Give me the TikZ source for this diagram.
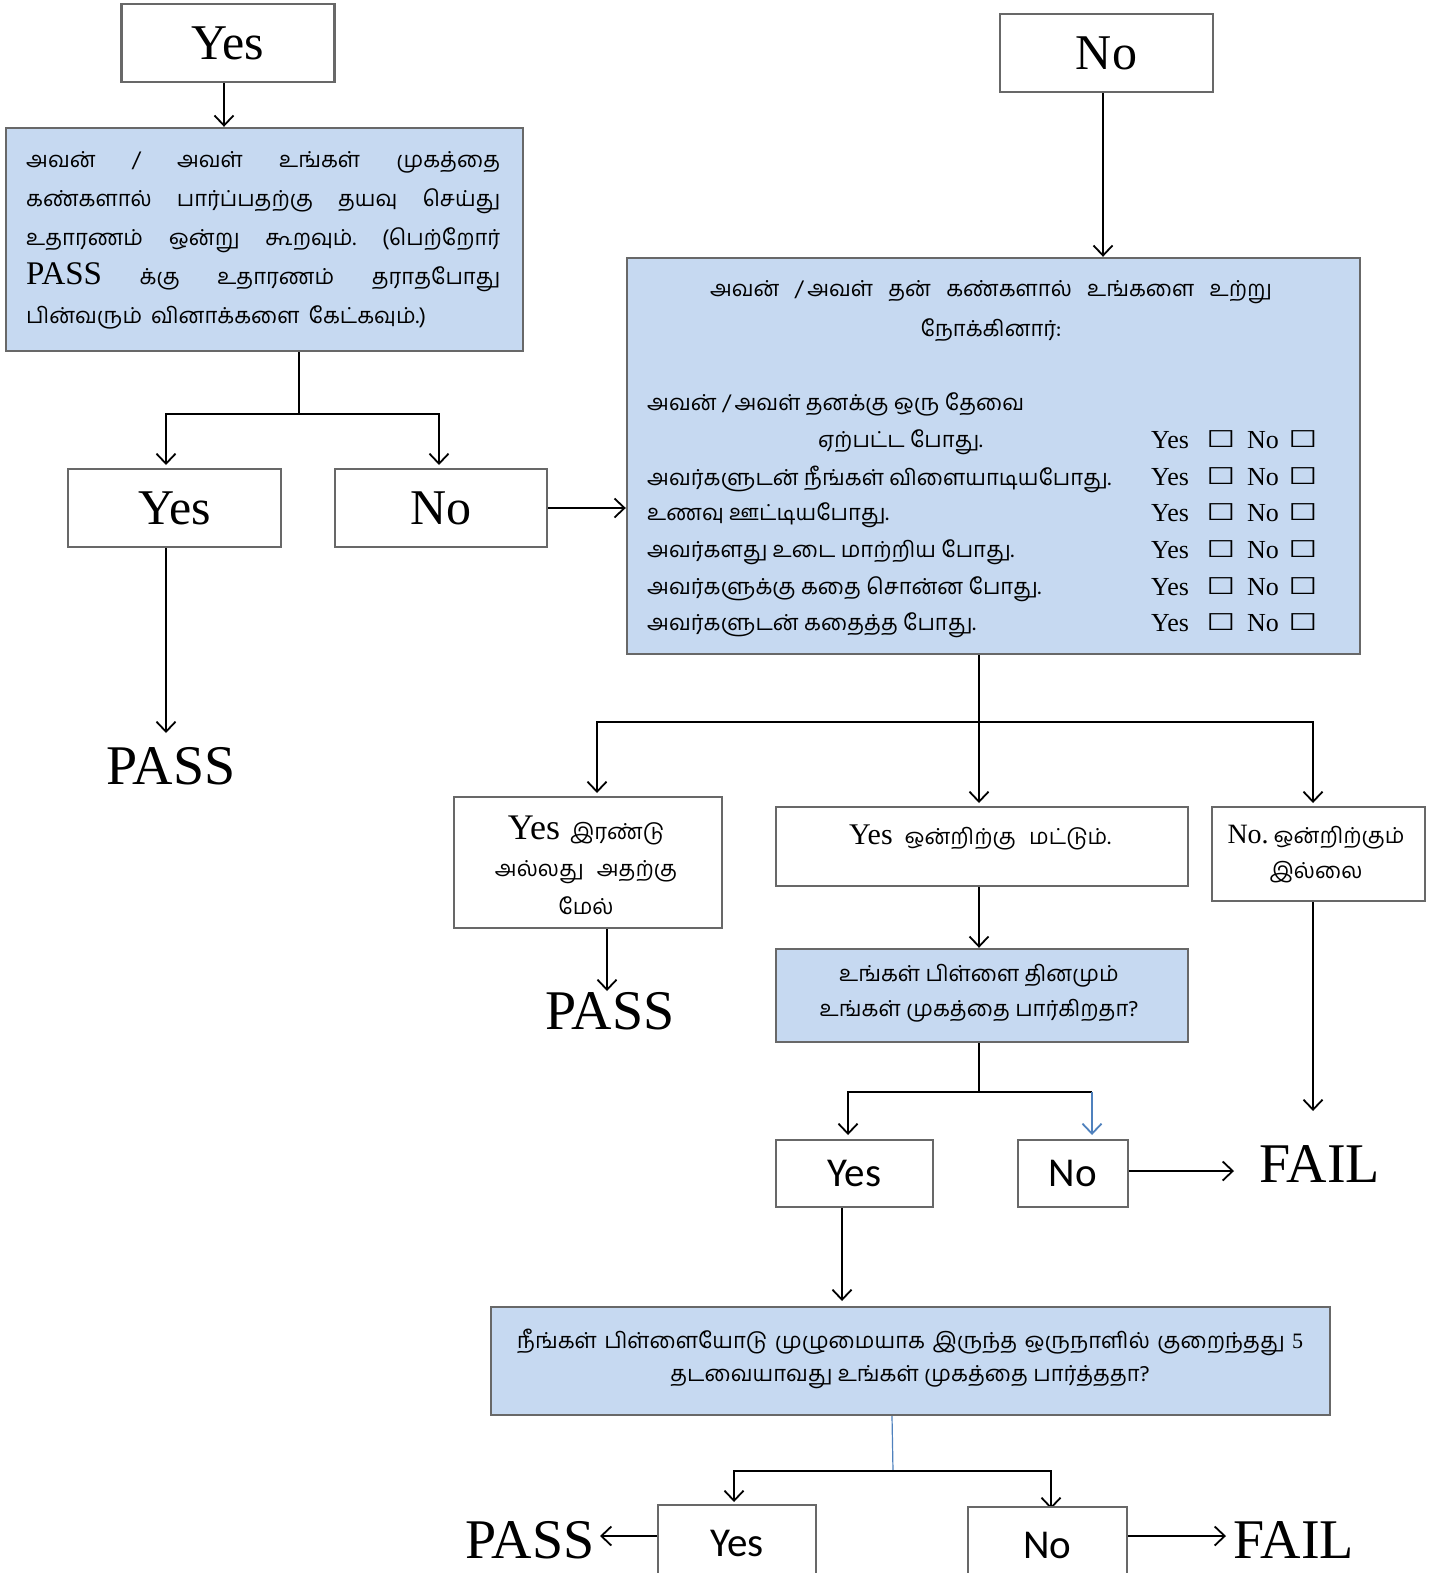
\documentclass[tikz,border=0pt]{standalone}
\usepackage{fontspec}
\setmainfont{Liberation Serif}
\newfontfamily\tam[Script=Tamil]{Hind Madurai}
\newfontfamily\symf{DejaVu Sans}
\newfontfamily\calf{Carlito}
\usetikzlibrary{arrows.meta}
\definecolor{boxgray}{HTML}{686868}
\definecolor{qblue}{HTML}{C6D9F1}
\definecolor{lineblue}{HTML}{4F81BD}
\begin{document}
\begin{tikzpicture}[x=1pt,y=-1pt,
  box/.style={draw=boxgray, line width=2.4pt, fill=white, inner sep=0pt},
  qbox/.style={box, fill=qblue},
  arr/.style={-{Straight Barb[length=10pt,width=19pt,line width=1.8pt]}, line width=1.8pt},
  ln/.style={line width=1.8pt},
  big/.style={font=\fontsize{50}{56}\selectfont, inner sep=0pt},
  res/.style={font=\fontsize{56}{60}\selectfont, inner sep=0pt},
  sans/.style={font=\calf\fontsize{41}{46}\selectfont},
  ta/.style={font=\tam\fontsize{22}{37}\selectfont, inner sep=0pt},
  lat/.style={font=\fontsize{26}{30}\selectfont, inner sep=0pt},
  chk/.style={font=\symf\fontsize{29}{30}\selectfont, inner sep=0pt}
]
\useasboundingbox (0,0) rectangle (1449,1573);

% top left
\node[box, minimum width=213pt, minimum height=78pt, big] (yesA) at (228,43) {Yes};
\node[qbox, minimum width=517pt, minimum height=223pt] (q1) at (264.5,239.5) {};
\node[ta, anchor=north west, align=left, font=\tam\fontsize{22}{39}\selectfont] (q1t) at (26,151) {%
\hbox to 474pt{அவன்\hfill /\hfill அவள்\hfill உங்கள்\hfill முகத்தை}\\
\hbox to 474pt{கண்களால்\hfill பார்ப்பதற்கு\hfill தயவு\hfill செய்து}\\
\hbox to 474pt{உதாரணம்\hfill ஒன்று\hfill கூறவும்.\hfill (பெற்றோர்}\\
\hbox to 474pt{{\rmfamily\fontsize{33}{39}\selectfont PASS}\hfill க்கு\hfill உதாரணம்\hfill தராதபோது}\\
\hbox to 400pt{பின்வரும்\hfill வினாக்களை\hfill கேட்கவும்.)}};
\draw[arr] (yesA.south -| 224,0) -- (q1.north -| 224,0);

\node[box, minimum width=213pt, minimum height=78pt, big] (yesB) at (174.5,508) {Yes};
\node[box, minimum width=212pt, minimum height=78pt, big] (noB) at (441,508) {No};
\coordinate (s1) at (299,414);
\draw[ln] (q1.south -| s1) -- (s1);
\draw[arr] (s1) -- (166,414) -- (166,465);
\draw[arr] (s1) -- (439,414) -- (439,465);
\node[res] (pass1) at (171,766) {PASS};
\draw[arr] (yesB.south -| 166,0) -- (166,733);

% top right
\node[box, minimum width=213pt, minimum height=78pt, big] (noA) at (1106.5,53) {No};
\node[qbox, minimum width=733pt, minimum height=396pt] (q2) at (993.5,456) {};
\draw[arr] (noA.south -| 1103,0) -- (q2.north -| 1103,0);
\draw[arr] (noB.east) -- (q2.west |- noB.east);

\node[ta] (q2a) at (991,292) {\hbox to 562pt{அவன்\hfill /\,அவள்\hfill தன்\hfill கண்களால்\hfill உங்களை\hfill உற்று}};
\node[ta] (q2b) at (991,330) {நோக்கினார்:};
\node[ta, anchor=west] (r0) at (647,404) {அவன் /\,அவள் தனக்கு ஒரு தேவை};
\node[ta, anchor=west] (r1) at (818,442) {ஏற்பட்ட போது.};
\node[ta, anchor=west] (r2) at (647,479) {அவர்களுடன் நீங்கள் விளையாடியபோது.};
\node[ta, anchor=west] (r3) at (647,515) {உணவு ஊட்டியபோது.};
\node[ta, anchor=west] (r4) at (647,552) {அவர்களது உடை மாற்றிய போது.};
\node[ta, anchor=west] (r5) at (647,589) {அவர்களுக்கு கதை சொன்ன போது.};
\node[ta, anchor=west] (r6) at (647,625) {அவர்களுடன் கதைத்த போது.};
\foreach \yy/\i in {440/1,477/2,513/3,550/4,587/5,623/6}{
  \node[lat, anchor=west] (ry\i) at (1151,\yy) {Yes};
  \node[chk] (cy\i) at (1221,\yy-1) {\scalebox{1.1}[0.8]{☐}};
  \node[lat, anchor=west] (rn\i) at (1247,\yy) {No};
  \node[chk] (cn\i) at (1303,\yy-1) {\scalebox{1.1}[0.8]{☐}};
}

% three branches
\coordinate (s2) at (979,722);
\draw[ln] (q2.south -| s2) -- (s2);
\draw[arr] (s2) -- (597,722) -- (597,793);
\draw[arr] (s2) -- (979,803);
\draw[arr] (s2) -- (1313,722) -- (1313,803);

\node[box, minimum width=268pt, minimum height=131pt] (bA) at (588,862.5) {};
\node[inner sep=0pt] (bAt1) at (586,830) {{\fontsize{36}{38}\selectfont Yes}\hspace{10pt}{\tam\fontsize{22}{30}\selectfont இரண்டு}};
\node[ta] (bAt2) at (586,872) {அல்லது\hspace{8pt} அதற்கு};
\node[ta] (bAt3) at (586,906) {மேல்};
\node[res] (pass2) at (610,1011) {PASS};
\draw[arr] (bA.south -| 607,0) -- (607,991);

\node[box, minimum width=412pt, minimum height=79pt] (bB) at (982,846.5) {};
\node[inner sep=0pt] (bBt) at (980,837) {{\fontsize{30}{32}\selectfont Yes}\hspace{12pt}{\tam\fontsize{22}{30}\selectfont ஒன்றிற்கு\hspace{8pt} மட்டும்.}};

\node[box, minimum width=213pt, minimum height=94pt] (bC) at (1318.5,854) {};
\node[inner sep=0pt] (bCt1) at (1316,837) {{\fontsize{28}{30}\selectfont No.}\hspace{5pt}{\tam\fontsize{22}{30}\selectfont ஒன்றிற்கும்}};
\node[ta] (bCt2) at (1316,872) {இல்லை};
\node[res] (fail1) at (1320,1164) {FAIL};
\draw[arr] (bC.south -| 1313,0) -- (1313,1111);

\node[qbox, minimum width=412pt, minimum height=93pt] (bD) at (982,995.5) {};
\node[ta] (bDt1) at (979,976) {உங்கள் பிள்ளை தினமும்};
\node[ta] (bDt2) at (979,1011) {உங்கள் முகத்தை பார்கிறதா?};
\draw[arr] (bB.south -| 979,0) -- (bD.north -| 979,0);

\coordinate (s3) at (979,1092);
\draw[ln] (bD.south -| s3) -- (s3);
\draw[arr] (s3) -- (848,1092) -- (848,1135);
\draw[ln] (s3) -- (1092,1092);
\draw[arr, draw=lineblue] (1092,1092) -- (1092,1135);

\node[box, minimum width=157pt, minimum height=67pt, sans] (yesE) at (854.5,1173.5) {Yes};
\node[box, minimum width=110pt, minimum height=67pt, sans] (noF) at (1073,1173.5) {No};
\draw[arr] (noF.east |- 0,1171) -- (1234,1171);
\draw[arr] (yesE.south -| 842,0) -- (842,1301);

\node[qbox, minimum width=839pt, minimum height=108pt] (bG) at (910.5,1361) {};
\node[ta] (bGt1) at (910,1342) {\hbox to 786pt{நீங்கள்\hfill பிள்ளையோடு\hfill முழுமையாக\hfill இருந்த\hfill ஒருநாளில்\hfill குறைந்தது\hfill {\rmfamily 5}}};
\node[ta] (bGt2) at (910,1377) {தடவையாவது உங்கள் முகத்தை பார்த்ததா?};

\coordinate (s4) at (893,1471);
\draw[line width=1.2pt, lineblue] (bG.south -| 892,0) -- (s4);
\draw[arr] (s4) -- (734,1471) -- (734,1502);
\draw[arr] (s4) -- (1051,1471) -- (1051,1509);

\node[box, minimum width=158pt, minimum height=76pt, sans] (yesH) at (737,1543) {Yes};
\node[box, minimum width=159pt, minimum height=76pt, sans] (noI) at (1047.5,1545) {No};
\node[res] (pass3) at (530,1540) {PASS};
\node[res] (fail2) at (1294,1540) {FAIL};
\draw[arr] (yesH.west |- 0,1536) -- (600,1536);
\draw[arr] (noI.east |- 0,1536) -- (1226,1536);
\end{tikzpicture}
\end{document}
